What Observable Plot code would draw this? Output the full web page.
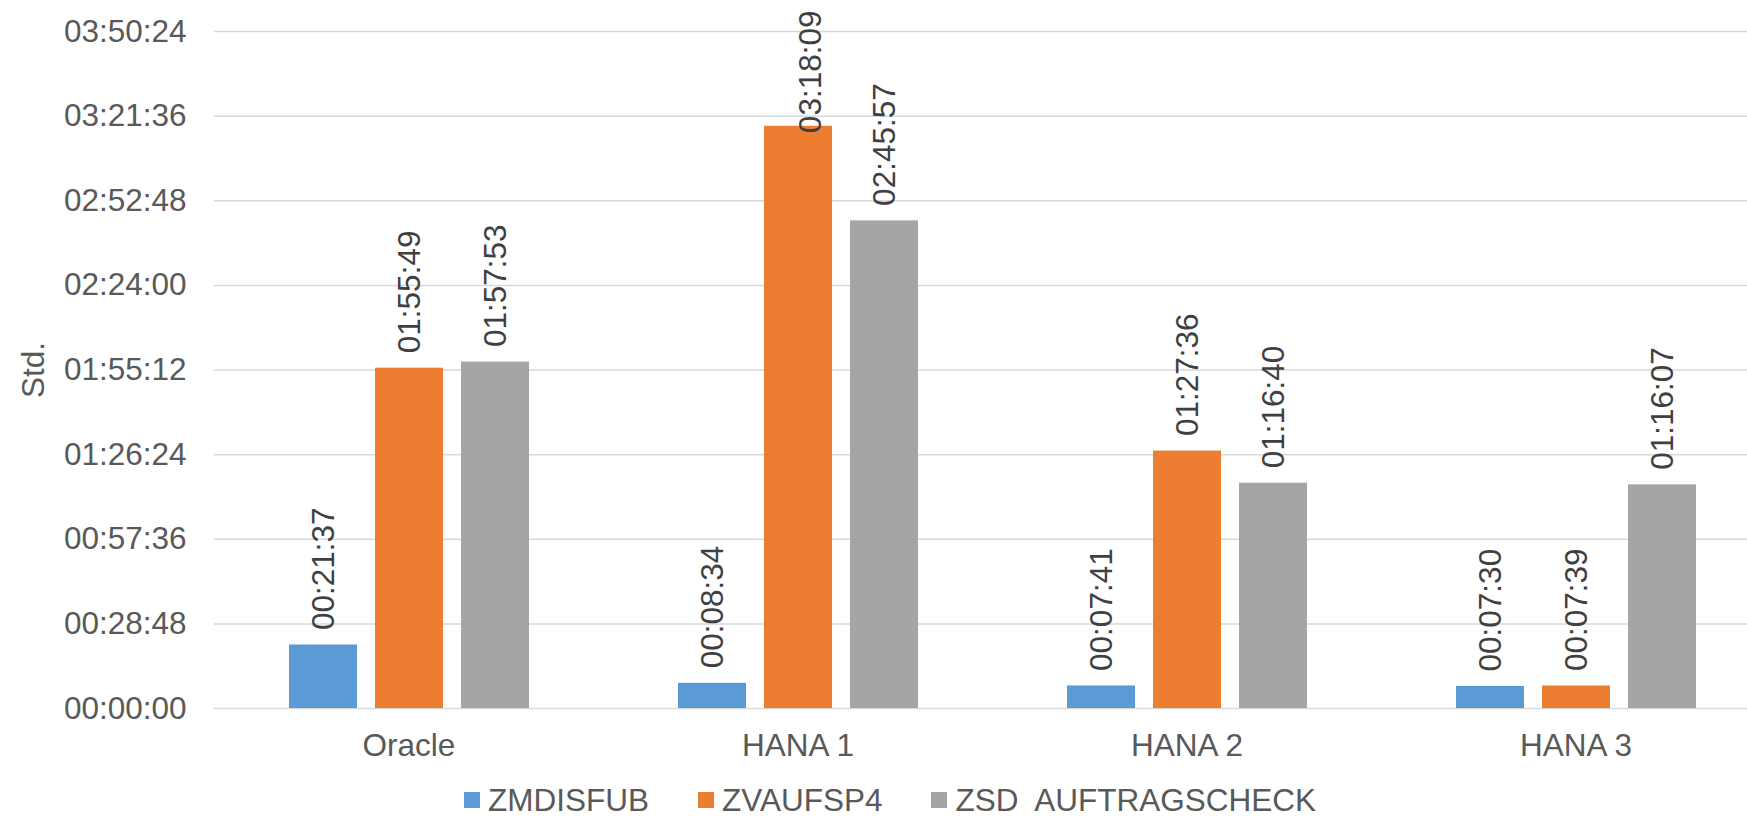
<!DOCTYPE html>
<html>
<head>
<meta charset="utf-8">
<script src="https://cdn.jsdelivr.net/npm/d3@7"></script>
<script src="https://cdn.jsdelivr.net/npm/@observablehq/plot@0.6"></script>
<style>
  html, body { margin: 0; padding: 0; background: #fff; overflow: hidden; }
  #wrap { position: relative; width: 1747px; height: 818px; overflow: hidden; font-family: 'Liberation Sans', Arial, sans-serif; }
  #chart { position: absolute; left: 0; top: 0; }
  #chart svg { max-width: none !important; }
  #ylabel { position: absolute; left: 34px; top: 370px; transform: translate(-50%, -50%) rotate(-90deg); font-size: 31.5px; color: #595959; white-space: nowrap; line-height: 1; }
  #legend { position: absolute; left: 464px; top: 787px; height: 26px; display: flex; align-items: center; font-size: 31.5px; color: #595959; line-height: 26px; }
  .item { display: flex; align-items: center; margin-right: 49px; white-space: pre; height: 26px; }
  .sw { width: 16px; height: 16px; margin-right: 8px; }
</style>
</head>
<body>
<div id="wrap">
  <div id="chart"></div>
  <div id="ylabel">Std.</div>
  <div id="legend"></div>
</div>
<script>
const categories = ["Oracle", "HANA 1", "HANA 2", "HANA 3"];
const seriesNames = ["ZMDISFUB", "ZVAUFSP4", "ZSD  AUFTRAGSCHECK"];
const zmdisfub = ["00:21:37", "00:08:34", "00:07:41", "00:07:30"];
const zvaufsp4 = ["01:55:49", "03:18:09", "01:27:36", "00:07:39"];
const zsdAuftragscheck = ["01:57:53", "02:45:57", "01:16:40", "01:16:07"];
const yTickLabels = ["00:00:00", "00:28:48", "00:57:36", "01:26:24", "01:55:12", "02:24:00", "02:52:48", "03:21:36", "03:50:24"];
const colors = ["#5b9bd5", "#ed7d31", "#a5a5a5"];

const toSec = s => { const [h, m, x] = s.split(":").map(Number); return h * 3600 + m * 60 + x; };
const pad = n => String(n).padStart(2, "0");
const fmt = v => pad(Math.floor(v / 3600)) + ":" + pad(Math.floor(v % 3600 / 60)) + ":" + pad(v % 60);

const seriesValues = [zmdisfub, zvaufsp4, zsdAuftragscheck];
const rows = [];
categories.forEach((c, i) => {
  seriesNames.forEach((s, j) => {
    rows.push({cat: c, series: s, value: toSec(seriesValues[j][i])});
  });
});
const ticks = yTickLabels.map(toSec);
const yMax = ticks[ticks.length - 1];

// labels that would run past the top of the chart are pinned to the top (as in the original)
const overflowLimit = yMax * 0.83;
const normal = rows.filter(d => d.value <= overflowLimit);
const pinned = rows.filter(d => d.value > overflowLimit);

const fs = 31.5;
const chart = Plot.plot({
  width: 1771,
  height: 775,
  marginLeft: 213,
  marginRight: 0,
  marginTop: 31,
  marginBottom: 67,
  style: {fontFamily: "'Liberation Sans', Arial, sans-serif", fontSize: fs + "px", color: "#595959", background: "white", overflow: "visible", maxWidth: "none"},
  fx: {domain: categories, padding: 0, label: null},
  x: {domain: seriesNames, axis: null, paddingInner: 0.214, paddingOuter: 0.858},
  y: {domain: [0, yMax], axis: null},
  color: {domain: seriesNames, range: colors},
  marks: [
    Plot.gridY(ticks, {stroke: "#d9d9d9", strokeOpacity: 1, strokeWidth: 1.5}),
    Plot.barY(rows, {fx: "cat", x: "series", y: "value", fill: "series"}),
    Plot.text(normal, {fx: "cat", x: "series", y: "value", text: d => fmt(d.value), rotate: -90, textAnchor: "start", dy: -15, fill: "#404040", fontSize: fs}),
    Plot.text(pinned, {fx: "cat", x: "series", frameAnchor: "top", text: d => fmt(d.value), rotate: -90, textAnchor: "end", dy: -21, fill: "#404040", fontSize: fs}),
    Plot.axisY(ticks, {tickFormat: fmt, tickSize: 0, tickPadding: 28, fill: "#595959", fontSize: fs, label: null}),
    Plot.axisFx({anchor: "bottom", tickSize: 0, tickPadding: 25, fill: "#595959", fontSize: fs, label: null})
  ]
});
document.getElementById("chart").appendChild(chart);

const legend = document.getElementById("legend");
seriesNames.forEach((s, j) => {
  const it = document.createElement("div");
  it.className = "item";
  const sw = document.createElement("div");
  sw.className = "sw";
  sw.style.background = colors[j];
  const t = document.createElement("span");
  t.textContent = s;
  it.appendChild(sw);
  it.appendChild(t);
  legend.appendChild(it);
});
</script>
</body>
</html>
